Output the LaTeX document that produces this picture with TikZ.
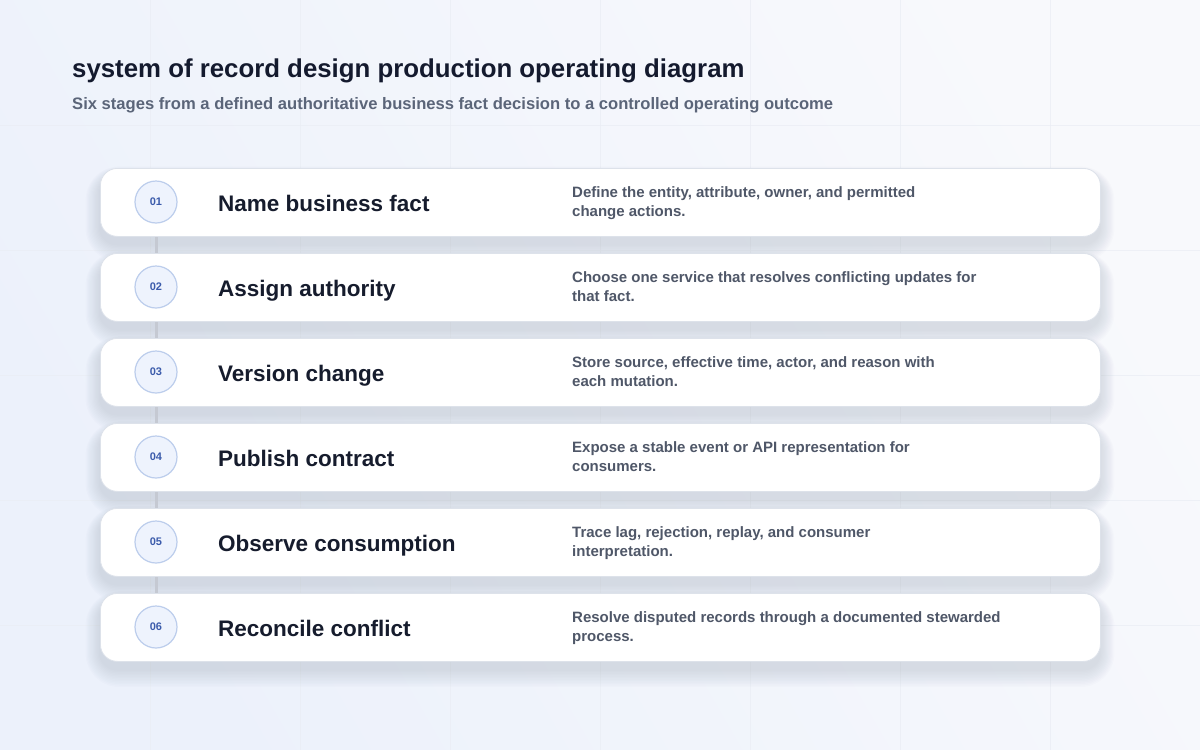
\documentclass[tikz,border=0pt]{standalone}
\usepackage{fontspec}
\setmainfont{Liberation Sans}
\usetikzlibrary{calc}
\definecolor{bgA}{HTML}{F8F9FC}
\definecolor{bgB}{HTML}{ECF1FB}
\definecolor{gridc}{HTML}{EAEDF4}
\definecolor{titlec}{HTML}{141A2E}
\definecolor{subc}{HTML}{5B6579}
\definecolor{cardtc}{HTML}{161C2D}
\definecolor{descc}{HTML}{4F5768}
\definecolor{numc}{HTML}{3B5BAB}
\definecolor{circfill}{HTML}{EEF3FD}
\definecolor{circdraw}{HTML}{BCCDEC}
\definecolor{cardborder}{HTML}{DDE2EA}
\definecolor{shadowc}{HTML}{3A4466}
\definecolor{linkc}{HTML}{C5C9D2}
\pgfdeclarelayer{bg}
\pgfdeclarelayer{shadow}
\pgfsetlayers{bg,shadow,main}
\tikzset{
  card/.style={draw=cardborder, line width=0.8pt, fill=white, rounded corners=17pt,
    minimum width=1000pt, minimum height=68pt, inner sep=0pt},
  numcirc/.style={circle, draw=circdraw, line width=1.2pt, fill=circfill,
    minimum size=42pt, inner sep=0pt, text=numc, font=\fontsize{11}{13}\selectfont\bfseries},
  cardtitle/.style={anchor=base west, inner sep=0pt, text=cardtc,
    font=\fontsize{22.5}{26}\selectfont\bfseries},
  desc/.style={anchor=base west, inner sep=0pt, text=descc,
    font=\fontsize{15}{19}\selectfont\bfseries},
  link/.style={draw=linkc, line width=3pt},
}
\newcommand{\stagerow}[5]{%
  % #1 index 0..5, #2 number, #3 title, #4 line1, #5 line2
  \pgfmathsetmacro{\ytop}{168+85*#1}
  \pgfmathsetmacro{\ymid}{\ytop+34}
  \begin{pgfonlayer}{shadow}
    \foreach \i in {1,...,12}{
      \fill[shadowc, opacity=0.011, rounded corners={17+1.4*\i}]
        (100-1.2*\i, \ytop+8-0.8*\i) rectangle (1100+1.2*\i, \ytop+68+8+1.5*\i);
    }
  \end{pgfonlayer}
  \node[card, anchor=north west] (card#2) at (100,\ytop) {};
  \node[numcirc] (num#2) at (156,\ymid) {#2};
  \node[cardtitle] (title#2) at (218,\ymid+9.5) {#3};
  \node[desc] (descA#2) at (572,\ymid-5) {#4};
  \node[desc] (descB#2) at (572,\ymid+14) {#5};
}
\begin{document}
\begin{tikzpicture}[x=1pt,y=-1pt]
\useasboundingbox (0,0) rectangle (1200,750);
\begin{pgfonlayer}{bg}
  \shade[left color=bgA, right color=bgB, shading angle=-60] (0,0) rectangle (1200,750);
  \foreach \gx in {150,300,...,1050} \draw[gridc, opacity=0.7, line width=0.8pt] (\gx,0) -- (\gx,750);
  \foreach \gy in {125,250,...,625} \draw[gridc, opacity=0.7, line width=0.8pt] (0,\gy) -- (1200,\gy);
\end{pgfonlayer}
\node[anchor=base west, inner sep=0pt, text=titlec, font=\fontsize{25.8}{30}\selectfont\bfseries]
  (title) at (72,77) {system of record design production operating diagram};
\node[anchor=base west, inner sep=0pt, text=subc, font=\fontsize{16.6}{19}\selectfont\bfseries]
  (subtitle) at (72,109) {Six stages from a defined authoritative business fact decision to a controlled operating outcome};
\stagerow{0}{01}{Name business fact}{Define the entity, attribute, owner, and permitted}{change actions.}
\stagerow{1}{02}{Assign authority}{Choose one service that resolves conflicting updates for}{that fact.}
\stagerow{2}{03}{Version change}{Store source, effective time, actor, and reason with}{each mutation.}
\stagerow{3}{04}{Publish contract}{Expose a stable event or API representation for}{consumers.}
\stagerow{4}{05}{Observe consumption}{Trace lag, rejection, replay, and consumer}{interpretation.}
\stagerow{5}{06}{Reconcile conflict}{Resolve disputed records through a documented stewarded}{process.}
\begin{pgfonlayer}{shadow}
  \draw[link] (card01.south -| num01.center) -- (card02.north -| num01.center);
  \draw[link] (card02.south -| num02.center) -- (card03.north -| num02.center);
  \draw[link] (card03.south -| num03.center) -- (card04.north -| num03.center);
  \draw[link] (card04.south -| num04.center) -- (card05.north -| num04.center);
  \draw[link] (card05.south -| num05.center) -- (card06.north -| num05.center);
\end{pgfonlayer}
\end{tikzpicture}
\end{document}
